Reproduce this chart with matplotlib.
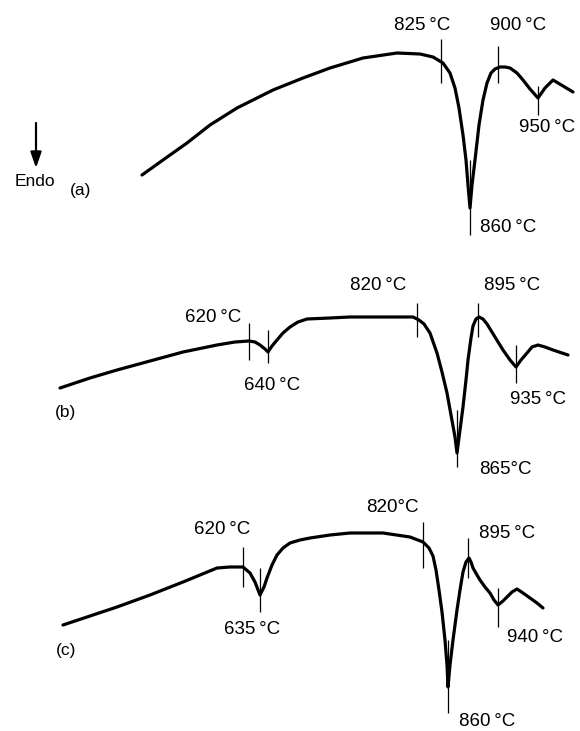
import matplotlib
matplotlib.use('Agg')
import matplotlib.pyplot as plt

plt.rcParams['font.family'] = ['Liberation Sans', 'DejaVu Sans']

# curves traced in picture units (x right, y down)
a_x = [142, 163, 187, 210, 237, 273, 303, 330, 363, 397, 420, 433, 443, 450, 455, 459, 463, 466, 468, 470,
       472, 475, 479, 483, 487, 491, 495, 500, 505, 510, 517, 523, 530, 538, 545, 553, 563, 573]
a_y = [175, 160, 143, 125, 108, 90, 78, 68, 58, 53, 54, 57, 63, 73, 88, 108, 135, 160, 185, 208,
       185, 160, 125, 100, 83, 73, 69, 67, 67, 68, 73, 80, 89, 98, 88, 80, 86, 92]

b_x = [60, 90, 117, 150, 183, 217, 235, 249, 255, 260, 265, 268, 272, 277, 283, 290, 298, 307, 330, 350, 407,
       413, 419, 424, 430, 437, 442, 447, 451, 455, 457, 460, 463, 466, 468, 471, 473, 476, 479, 483, 487,
       495, 503, 510, 516, 521, 527, 532, 538, 545, 553, 568]
b_y = [388, 378, 370, 361, 352, 345, 342, 341, 342, 345, 349, 352, 346, 340, 333, 327, 322, 319, 318, 317, 317,
       317, 320, 324, 333, 353, 372, 393, 415, 437, 453, 430, 407, 380, 360, 338, 326, 319, 317, 319, 324,
       337, 350, 360, 367, 360, 353, 347, 345, 347, 350, 355]

c_x = [63, 90, 117, 150, 183, 217, 230, 243, 250, 255, 260, 264, 267, 272, 277, 283, 290, 300, 310, 330, 350,
       383, 410, 423, 429, 433, 436, 439, 442, 445, 447, 448, 450, 453, 457, 460, 463, 466, 469, 471, 473,
       477, 480, 485, 490, 494, 498, 503, 507, 512, 517, 523, 530, 537, 543]
c_y = [625, 616, 607, 595, 582, 568, 567, 567, 573, 582, 595, 587, 578, 565, 555, 548, 543, 540, 538, 535, 533,
       533, 537, 542, 548, 556, 570, 590, 612, 640, 665, 687, 665, 640, 610, 590, 572, 562, 558, 562, 568,
       575, 580, 587, 593, 600, 605, 601, 597, 592, 589, 593, 598, 603, 608]

# marker ticks: x, top, bottom
a_ticks = [(441, 39, 83), (470, 160, 235), (498, 46, 83), (538, 86, 115)]
b_ticks = [(249, 323, 360), (268, 330, 363), (417, 303, 337), (457, 410, 467), (478, 303, 337), (516, 345, 383)]
c_ticks = [(243, 547, 587), (260, 568, 612), (423, 522, 568), (448, 640, 713), (468, 538, 578), (498, 588, 627)]

# labels: text, x, y
a_labels = [('825\u2009°C', 422, 25), ('900\u2009°C', 518, 25), ('950\u2009°C', 547, 127), ('860\u2009°C', 508, 227)]
b_labels = [('620\u2009°C', 213, 317), ('640\u2009°C', 272, 385), ('820\u2009°C', 378, 285), ('895\u2009°C', 512, 285),
            ('935\u2009°C', 538, 400), ('865°C', 505, 469)]
c_labels = [('620\u2009°C', 222, 530), ('635\u2009°C', 252, 630), ('820°C', 392, 507), ('895\u2009°C', 507, 533),
            ('940\u2009°C', 535, 637), ('860\u2009°C', 487, 722)]
panel_labels = [('(a)', 81, 190), ('(b)', 66, 412), ('(c)', 66, 650)]

fig = plt.figure(figsize=(5.8, 7.31), dpi=100)
ax = fig.add_axes([0, 0, 1, 1])
ax.set_xlim(0, 580)
ax.set_ylim(731, 0)
ax.axis('off')

for xs, ys in [(a_x, a_y), (b_x, b_y), (c_x, c_y)]:
    ax.plot(xs, ys, color='black', lw=2.3, solid_joinstyle='round', solid_capstyle='round')

for ticks in [a_ticks, b_ticks, c_ticks]:
    for x, y0, y1 in ticks:
        ax.vlines(x, y0, y1, color='black', lw=0.9)

for labels in [a_labels, b_labels, c_labels]:
    for s, x, y in labels:
        ax.text(x, y, s, fontsize=13.5, ha='center', va='center')

for s, x, y in panel_labels:
    ax.text(x, y, s, fontsize=12.5, ha='center', va='center')

# endotherm direction arrow
ax.annotate('', xy=(36, 168), xytext=(36, 123),
            arrowprops=dict(arrowstyle='-|>,head_length=0.95,head_width=0.33', color='black', lw=1.6,
                            shrinkA=0, shrinkB=0))
ax.text(35, 181, 'Endo', fontsize=12.5, ha='center', va='center')

fig.savefig('out.png', dpi=100)
